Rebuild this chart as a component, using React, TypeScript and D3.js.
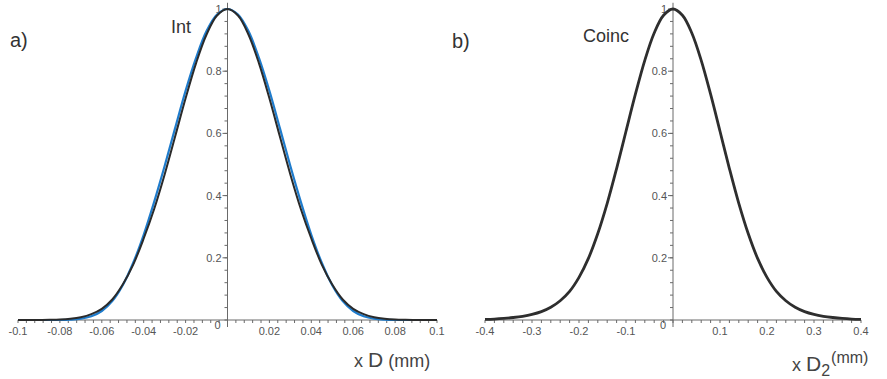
import * as d3 from 'd3';

// panel a) : intensity, x from -0.1 to 0.1 mm
const intX = [
  -0.1, -0.095, -0.09, -0.085, -0.08, -0.075, -0.07, -0.065, -0.06, -0.055, -0.05,
  -0.045, -0.04, -0.035, -0.03, -0.025, -0.02, -0.015, -0.01, -0.005, 0,
  0.005, 0.01, 0.015, 0.02, 0.025, 0.03, 0.035, 0.04, 0.045, 0.05,
  0.055, 0.06, 0.065, 0.07, 0.075, 0.08, 0.085, 0.09, 0.095, 0.1,
];
const intBlack = [
  0, 0, 0, 0.0005, 0.0015, 0.004, 0.009, 0.019, 0.036, 0.066, 0.114,
  0.178, 0.262, 0.357, 0.468, 0.59, 0.713, 0.826, 0.918, 0.979, 1,
  0.979, 0.918, 0.826, 0.713, 0.59, 0.468, 0.357, 0.262, 0.178, 0.114,
  0.066, 0.036, 0.019, 0.009, 0.004, 0.0015, 0.0005, 0, 0, 0,
];
const intBlue = [
  0, 0, 0, 0, 0, 0.001, 0.004, 0.012, 0.029, 0.061, 0.112,
  0.184, 0.274, 0.38, 0.495, 0.617, 0.737, 0.843, 0.929, 0.982, 1,
  0.982, 0.929, 0.843, 0.737, 0.617, 0.495, 0.38, 0.274, 0.184, 0.112,
  0.061, 0.029, 0.012, 0.004, 0.001, 0, 0, 0, 0, 0,
];
const intTicks = [-0.1, -0.08, -0.06, -0.04, -0.02, 0.02, 0.04, 0.06, 0.08, 0.1];
const intTickLabels = ['-0.1', '-0.08', '-0.06', '-0.04', '-0.02', '0.02', '0.04', '0.06', '0.08', '0.1'];

// panel b) : coincidences, x from -0.4 to 0.4 mm
const coincX = [
  -0.4, -0.38, -0.36, -0.34, -0.32, -0.3, -0.28, -0.26, -0.24, -0.22, -0.2,
  -0.18, -0.16, -0.14, -0.12, -0.1, -0.08, -0.06, -0.04, -0.02, 0,
  0.02, 0.04, 0.06, 0.08, 0.1, 0.12, 0.14, 0.16, 0.18, 0.2,
  0.22, 0.24, 0.26, 0.28, 0.3, 0.32, 0.34, 0.36, 0.38, 0.4,
];
const coincY = [
  0.002, 0.003, 0.005, 0.008, 0.012, 0.018, 0.027, 0.041, 0.062, 0.092, 0.137,
  0.198, 0.278, 0.375, 0.487, 0.607, 0.726, 0.835, 0.923, 0.98, 1,
  0.98, 0.923, 0.835, 0.726, 0.607, 0.487, 0.375, 0.278, 0.198, 0.137,
  0.092, 0.062, 0.041, 0.027, 0.018, 0.012, 0.008, 0.005, 0.003, 0.002,
];
const coincTicks = [-0.4, -0.3, -0.2, -0.1, 0.1, 0.2, 0.3, 0.4];
const coincTickLabels = ['-0.4', '-0.3', '-0.2', '-0.1', '0.1', '0.2', '0.3', '0.4'];

const yTicks = [0.2, 0.4, 0.6, 0.8, 1];
const yTickLabels = ['0.2', '0.4', '0.6', '0.8', '1'];

const FONT = '"Liberation Sans", Arial, sans-serif';
const AXIS = '#6a6a6a';
const LABEL = '#555';

type Series = { ys: number[]; color: string; width: number };

const Panel = ({
  domain, range, xs, series, ticks, tickLabels, minorPerMajor,
}: {
  domain: [number, number];
  range: [number, number];
  xs: number[];
  series: Series[];
  ticks: number[];
  tickLabels: string[];
  minorPerMajor: number;
}) => {
  const x = d3.scaleLinear().domain(domain).range(range);
  const y = d3.scaleLinear().domain([0, 1]).range([320, 9]);
  const x0 = x(0);
  const y0 = y(0);

  const step = (ticks[1] - ticks[0]) / minorPerMajor;
  const nMinor = Math.round((domain[1] - domain[0]) / step);
  const minorX = d3.range(nMinor + 1).map(i => domain[0] + i * step);
  const minorY = d3.range(26).map(i => i * 0.04);

  const line = d3.line<number>()
    .x((_, i) => x(xs[i]))
    .y(d => y(d))
    .curve(d3.curveCatmullRom);

  return (
    <g>
      {/* x axis */}
      <line x1={range[0]} x2={range[1]} y1={y0} y2={y0} stroke={AXIS} strokeWidth={1} />
      {minorX.map((v, i) => (
        <line key={'mx' + i} x1={x(v)} x2={x(v)} y1={y0} y2={y0 + 3} stroke={AXIS} strokeWidth={1} />
      ))}
      {ticks.map((v, i) => (
        <text key={'xl' + i} x={x(v)} y={335} textAnchor="middle" fontFamily={FONT}
          fontSize={11} fill={LABEL}>{tickLabels[i]}</text>
      ))}
      <text x={x0 - 10} y={329} textAnchor="middle" fontFamily={FONT} fontSize={11} fill={LABEL}>0</text>

      {/* y axis */}
      <line x1={x0} x2={x0} y1={y0 + 7} y2={y(1.02)} stroke={AXIS} strokeWidth={1} />
      {minorY.map((v, i) => (
        <line key={'my' + i} x1={x0 - 3} x2={x0} y1={y(v)} y2={y(v)} stroke={AXIS} strokeWidth={1} />
      ))}
      {yTicks.map((v, i) => (
        <g key={'yl' + i}>
          <line x1={x0 - 5} x2={x0} y1={y(v)} y2={y(v)} stroke={AXIS} strokeWidth={1} />
          <text x={x0 - 6} y={y(v) + 4} textAnchor="end" fontFamily={FONT}
            fontSize={11} fill={LABEL}>{yTickLabels[i]}</text>
        </g>
      ))}

      {series.map((s, i) => (
        <path key={'s' + i} d={line(s.ys) || ''} fill="none" stroke={s.color}
          strokeWidth={s.width} strokeLinejoin="round" />
      ))}
    </g>
  );
};

export default function App() {
  return (
    <svg width={887} height={379} style={{ position: 'absolute', left: 0, top: 0, background: '#fff' }}>
      <rect width={887} height={379} fill="#fff" />
      <Panel
        domain={[-0.1, 0.1]}
        range={[18, 437]}
        xs={intX}
        series={[
          { ys: intBlue, color: '#1f7ccc', width: 2.2 },
          { ys: intBlack, color: '#2a2a2a', width: 2 },
        ]}
        ticks={intTicks}
        tickLabels={intTickLabels}
        minorPerMajor={5}
      />
      <Panel
        domain={[-0.4, 0.4]}
        range={[485, 861]}
        xs={coincX}
        series={[{ ys: coincY, color: '#2e2e2e', width: 2.8 }]}
        ticks={coincTicks}
        tickLabels={coincTickLabels}
        minorPerMajor={5}
      />

      <text x={10} y={47} fontFamily={FONT} fontSize={20} fill="#333">a)</text>
      <text x={452} y={48} fontFamily={FONT} fontSize={20} fill="#333">b)</text>
      <text x={171} y={33} fontFamily={FONT} fontSize={18} fill="#333">Int</text>
      <text x={583} y={42} fontFamily={FONT} fontSize={18} fill="#333">Coinc</text>

      <text x={354} y={367} fontFamily={FONT} fill="#444">
        <tspan fontSize={18}>x </tspan>
        <tspan fontSize={21}>D</tspan>
        <tspan fontSize={18} dx={5}>(mm)</tspan>
      </text>
      <text x={792} y={371} fontFamily={FONT} fill="#444">
        <tspan fontSize={18}>x </tspan>
        <tspan fontSize={21}>D</tspan>
        <tspan fontSize={16} dy={5}>2</tspan>
        <tspan fontSize={16} dy={-13} dx={1}>(mm)</tspan>
      </text>
    </svg>
  );
}
